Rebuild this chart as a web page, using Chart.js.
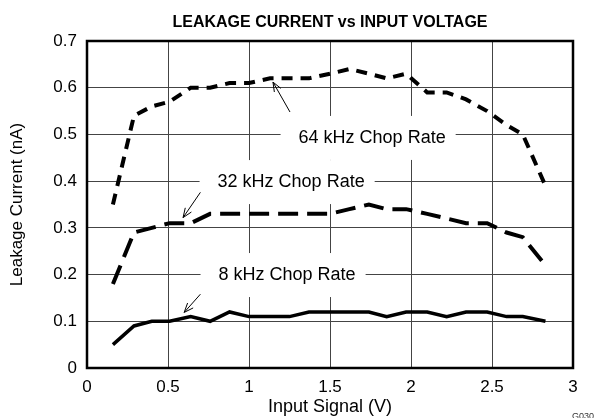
<!DOCTYPE html>
<html>
<head>
<meta charset="utf-8">
<script src="https://cdn.jsdelivr.net/npm/chart.js@4"></script>
<style>
  html, body { margin: 0; padding: 0; background: #fff; }
  #wrap { width: 595px; height: 418px; }
</style>
</head>
<body>
<div id="wrap"><canvas id="leakChart" width="595" height="418"></canvas></div>
<script>
// values
let inputVolts = [0.16, 0.29, 0.40, 0.51, 0.64, 0.76, 0.88, 1.00, 1.13, 1.25, 1.37, 1.50, 1.62, 1.74, 1.85, 1.97, 2.10, 2.22, 2.34, 2.47, 2.59, 2.69, 2.83];
let chop64 = [0.35, 0.54, 0.56, 0.57, 0.60, 0.60, 0.61, 0.61, 0.62, 0.62, 0.62, 0.63, 0.64, 0.63, 0.62, 0.63, 0.59, 0.59, 0.575, 0.55, 0.52, 0.50, 0.39];
let chop32 = [0.18, 0.29, 0.30, 0.31, 0.31, 0.33, 0.33, 0.33, 0.33, 0.33, 0.33, 0.33, 0.34, 0.35, 0.34, 0.34, 0.33, 0.32, 0.31, 0.31, 0.29, 0.28, 0.22];
let chop8 = [0.05, 0.09, 0.10, 0.10, 0.11, 0.10, 0.12, 0.11, 0.11, 0.11, 0.12, 0.12, 0.12, 0.12, 0.11, 0.12, 0.12, 0.11, 0.12, 0.12, 0.11, 0.11, 0.10];

let xTickLabels = ["0", "0.5", "1", "1.5", "2", "2.5", "3"];
let yTickLabels = ["0", "0.1", "0.2", "0.3", "0.4", "0.5", "0.6", "0.7"];

let seriesNames = ["64 kHz Chop Rate", "32 kHz Chop Rate", "8 kHz Chop Rate"];

// callout placement (data coords): text centre, arrow tail, arrow tip
let callouts = [
    { text: seriesNames[0], x: 1.76, y: 0.4925, from: [1.253, 0.548], to: [1.148, 0.612] },
    { text: seriesNames[1], x: 1.26, y: 0.398, from: [0.70, 0.376], to: [0.593, 0.322] },
    { text: seriesNames[2], x: 1.235, y: 0.199, from: [0.70, 0.158], to: [0.60, 0.119] }
];

const FONT = "'Liberation Sans', Arial, Helvetica, sans-serif";

function toPoints(ys) {
    return ys.map((v, i) => ({ x: inputVolts[i], y: v }));
}

function drawArrow(ctx, x1, y1, x2, y2) {
    let ang = Math.atan2(y2 - y1, x2 - x1);
    let len = 10, spread = 0.38;
    ctx.beginPath();
    ctx.moveTo(x1, y1);
    ctx.lineTo(x2, y2);
    ctx.moveTo(x2 - len * Math.cos(ang - spread), y2 - len * Math.sin(ang - spread));
    ctx.lineTo(x2, y2);
    ctx.lineTo(x2 - len * Math.cos(ang + spread), y2 - len * Math.sin(ang + spread));
    ctx.stroke();
}

const calloutPlugin = {
    id: 'callouts',
    beforeDatasetsDraw(chart) {
        let ctx = chart.ctx, xs = chart.scales.x, ys = chart.scales.y;
        ctx.save();
        ctx.font = "18px " + FONT;
        callouts.forEach(c => {
            let cx = xs.getPixelForValue(c.x), cy = ys.getPixelForValue(c.y);
            let w = ctx.measureText(c.text).width;
            ctx.fillStyle = '#fff';
            ctx.fillRect(cx - w / 2 - 18, cy - 22, w + 28, 44);
            ctx.fillStyle = '#000';
            ctx.textAlign = 'center';
            ctx.textBaseline = 'middle';
            ctx.fillText(c.text, cx, cy);
        });
        ctx.restore();
    },
    afterDraw(chart) {
        let ctx = chart.ctx, xs = chart.scales.x, ys = chart.scales.y, a = chart.chartArea;
        ctx.save();
        ctx.strokeStyle = '#000';
        ctx.lineWidth = 1;
        callouts.forEach(c => {
            drawArrow(ctx,
                xs.getPixelForValue(c.from[0]), ys.getPixelForValue(c.from[1]),
                xs.getPixelForValue(c.to[0]), ys.getPixelForValue(c.to[1]));
        });
        // plot frame
        ctx.lineWidth = 2.5;
        ctx.strokeRect(a.left, a.top, a.right - a.left, a.bottom - a.top);
        // figure code in the corner
        ctx.fillStyle = '#333';
        ctx.font = "9px " + FONT;
        ctx.textBaseline = 'top';
        ctx.fillText("G030", 572, 412);
        ctx.restore();
    }
};

let ctxLeak = document.getElementById("leakChart").getContext('2d');

let leakChart = new Chart(ctxLeak, {
    type: 'line',
    data: {
        datasets: [{
            label: seriesNames[0],
            data: toPoints(chop64),
            borderColor: '#000',
            borderWidth: 4,
            borderDash: [11, 8],
            pointRadius: 0,
            tension: 0
        },
        {
            label: seriesNames[1],
            data: toPoints(chop32),
            borderColor: '#000',
            borderWidth: 4,
            borderDash: [20, 9],
            pointRadius: 0,
            tension: 0
        },
        {
            label: seriesNames[2],
            data: toPoints(chop8),
            borderColor: '#000',
            borderWidth: 3.5,
            pointRadius: 0,
            tension: 0
        }]
    },
    options: {
        responsive: false,
        animation: false,
        layout: { padding: { left: 0, right: 22, top: 0, bottom: 0 } },
        plugins: {
            legend: { display: false },
            tooltip: { enabled: false },
            title: {
                display: true,
                text: "LEAKAGE CURRENT vs INPUT VOLTAGE",
                color: '#000',
                fullSize: false,
                font: { family: FONT, size: 16, weight: 'bold', lineHeight: 1.2 },
                padding: { top: 13, bottom: 8.8 }
            }
        },
        scales: {
            x: {
                type: 'linear',
                min: 0,
                max: 3,
                afterFit(scale) { scale.height = 50; },
                border: { display: false },
                grid: { color: '#444', lineWidth: 1, drawTicks: false },
                ticks: {
                    stepSize: 0.5,
                    padding: 9,
                    color: '#000',
                    font: { family: FONT, size: 17 },
                    callback: (v, i) => xTickLabels[i]
                },
                title: {
                    display: true,
                    text: "Input Signal (V)",
                    color: '#000',
                    font: { family: FONT, size: 18 },
                    padding: { top: 0, bottom: 0 }
                }
            },
            y: {
                min: 0,
                max: 0.7,
                afterFit(scale) { scale.width = 87; },
                border: { display: false },
                grid: { color: '#444', lineWidth: 1, drawTicks: false },
                ticks: {
                    stepSize: 0.1,
                    padding: 10,
                    color: '#000',
                    font: { family: FONT, size: 17 },
                    callback: (v, i) => yTickLabels[i]
                },
                title: {
                    display: true,
                    text: "Leakage Current (nA)",
                    color: '#000',
                    font: { family: FONT, size: 17 },
                    padding: { top: 7, bottom: 0 }
                }
            }
        }
    },
    plugins: [calloutPlugin]
});
</script>
</body>
</html>
